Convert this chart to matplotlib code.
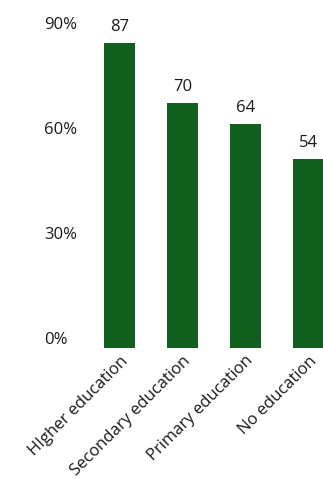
import matplotlib
matplotlib.use("Agg")
import matplotlib.pyplot as plt
import matplotlib.transforms as mtransforms

# data
categories = ["HIgher education", "Secondary education", "Primary education", "No education"]
values = [87, 70, 64, 54]
yticks = [0, 30, 60, 90]
ytick_labels = ["0%", "30%", "60%", "90%"]

plt.rcParams['font.family'] = ['Open Sans', 'DejaVu Sans']
bar_color = "#11601f"
text_color = "#1a1a1a"
fs = 12

fig = plt.figure(figsize=(3.23, 4.79), dpi=100)
ax = fig.add_axes([95 / 323, (479 - 348) / 479, (323 - 95) / 323, 328 / 479])

x = list(range(len(categories)))
ax.bar(x, values, width=0.49, color=bar_color)
ax.set_xlim(-0.394, 3.234)
ax.set_ylim(0, 93.7)

# value labels above bars
for xi, v in zip(x, values):
    ax.annotate(str(v), (xi, v), xytext=(0, 6), textcoords="offset points",
                ha="center", va="bottom", fontsize=fs, color=text_color)

# y tick labels drawn by hand: left aligned, nudged up like the reference
ax.set_yticks(yticks)
ax.set_yticklabels([])
trans = mtransforms.blended_transform_factory(fig.transFigure, ax.transData)
trans = trans + mtransforms.ScaledTranslation(0, 8 / 100, fig.dpi_scale_trans)
for yv, lab in zip(yticks, ytick_labels):
    ax.text(44 / 323, yv, lab, transform=trans, ha="left", va="center",
            fontsize=fs, color=text_color)

ax.set_xticks(x)
ax.set_xticklabels(categories, rotation=45, ha="right", rotation_mode="anchor",
                   fontsize=fs, color=text_color)

ax.tick_params(length=0)
for s in ax.spines.values():
    s.set_visible(False)

fig.savefig("out.png", dpi=100)
